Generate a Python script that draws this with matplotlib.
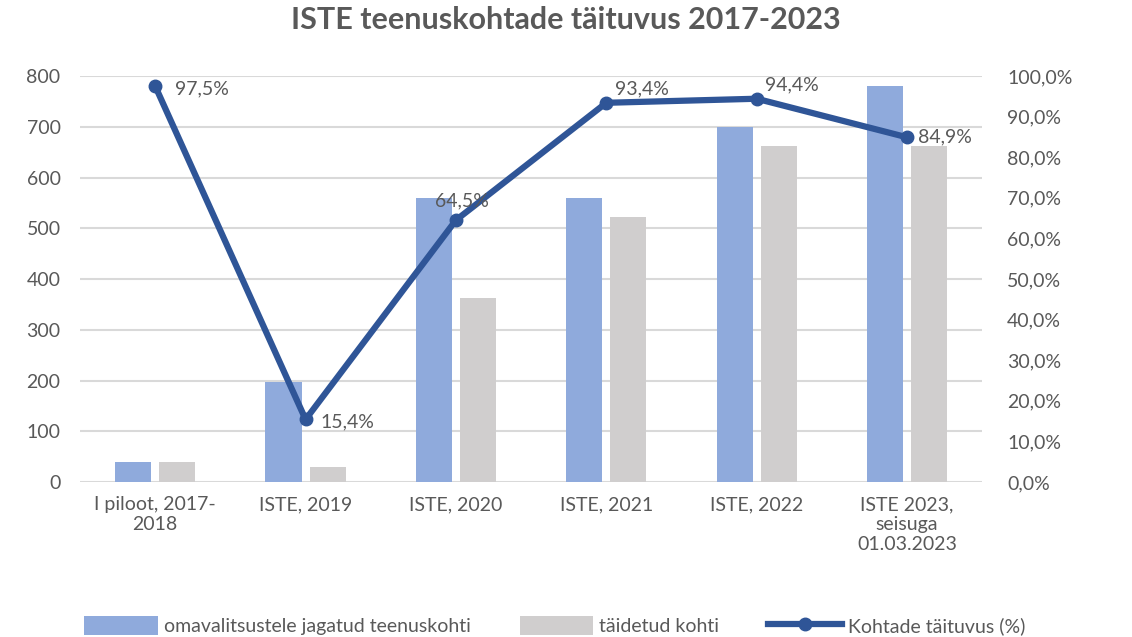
import numpy as np
import matplotlib.pyplot as plt
from matplotlib.ticker import FuncFormatter

plt.rcParams['font.family'] = ['Lato', 'DejaVu Sans']

# data
categories = ['I piloot, 2017-\n2018', 'ISTE, 2019', 'ISTE, 2020', 'ISTE, 2021', 'ISTE, 2022',
              'ISTE 2023,\nseisuga\n01.03.2023']
jagatud = [40, 198, 559, 559, 700, 781]
taidetud = [40, 30, 362, 523, 662, 662]
taituvus = [97.5, 15.4, 64.5, 93.4, 94.4, 84.9]
label_pos = ['right', 'right', 'above', 'aboveright', 'aboveright', 'right']

txt = '#595959'
x = np.arange(len(categories))

fig = plt.figure(figsize=(11.32, 6.37), dpi=100)
ax = fig.add_axes([0.0707, 0.2433, 0.797, 0.6374])
ax2 = ax.twinx()

w = 0.24
ax.bar(x - 0.147, jagatud, w, color='#8FAADC', label='omavalitsustele jagatud teenuskohti', zorder=2)
ax.bar(x + 0.147, taidetud, w, color='#D0CECE', label='täidetud kohti', zorder=2)
ax.set_ylim(0, 800)
ax.set_yticks(range(0, 801, 100))
ax.set_xlim(-0.5, len(categories) - 0.5)
ax.set_xticks(x)
ax.set_xticklabels(categories, fontsize=14, color=txt)
ax.grid(axis='y', color='#D9D9D9', lw=1.5, zorder=0)
ax.set_axisbelow(True)
ax.tick_params(axis='y', length=0, labelsize=14, labelcolor=txt, pad=14)
ax.tick_params(axis='x', length=0, pad=10)
for s in ax.spines.values():
    s.set_visible(False)

ax2.plot(x, taituvus, color='#2F5597', lw=4.5, marker='o', ms=9, label='Kohtade täituvus (%)', zorder=3)
ax2.set_ylim(0, 100)
ax2.set_yticks(range(0, 101, 10))
ax2.yaxis.set_major_formatter(FuncFormatter(lambda v, p: f'{v:.1f}%'.replace('.', ',')))
ax2.tick_params(axis='y', length=0, labelsize=14, labelcolor=txt, pad=18)
for s in ax2.spines.values():
    s.set_visible(False)

# data labels on the line
offs = [(14, -2), (11, -2), (4, 8), (6, 4), (6, 4), (8, 0)]
for xi, v, pos, o in zip(x, taituvus, label_pos, offs):
    lab = f'{v:.1f}%'.replace('.', ',')
    if pos == 'right':
        ax2.annotate(lab, (xi, v), xytext=o, textcoords='offset points',
                     ha='left', va='center', fontsize=14, color=txt)
    elif pos == 'above':
        ax2.annotate(lab, (xi, v), xytext=o, textcoords='offset points',
                     ha='center', va='bottom', fontsize=14, color=txt)
    else:
        ax2.annotate(lab, (xi, v), xytext=o, textcoords='offset points',
                     ha='left', va='bottom', fontsize=14, color=txt)

fig.suptitle('ISTE teenuskohtade täituvus 2017-2023', x=0.5, y=0.99, fontsize=22,
             fontweight='bold', color=txt)

h1, l1 = ax.get_legend_handles_labels()
h2, l2 = ax2.get_legend_handles_labels()
fig.legend(h1 + h2, l1 + l2, loc='lower center', bbox_to_anchor=(0.49, -0.025), ncol=3,
           frameon=False, fontsize=14, labelcolor=txt, handlelength=3.8, handleheight=1.1,
           columnspacing=2.5, handletextpad=0.3)

fig.savefig('out.png', dpi=100)
